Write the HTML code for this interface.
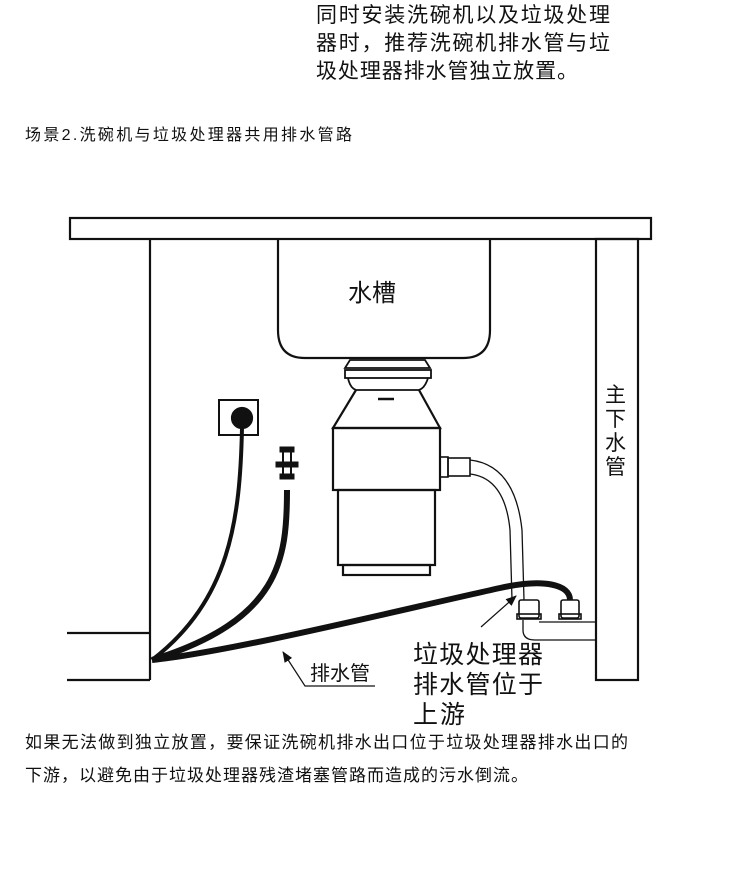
<!DOCTYPE html>
<html><head><meta charset="utf-8"><style>
html,body{margin:0;padding:0;background:#fff;}
svg{display:block;}
text{font-family:"Liberation Sans","Noto Sans CJK SC",sans-serif;fill:#111;}
</style></head><body>
<svg width="750" height="880" viewBox="0 0 750 880" xmlns="http://www.w3.org/2000/svg">
<defs><marker id="ar" markerWidth="12" markerHeight="12" refX="10" refY="5" orient="auto" markerUnits="userSpaceOnUse"><path d="M0,0.5 L11,5 L0,9.5 Z" fill="#111"/></marker></defs>
<text x="316" y="22" font-size="21" textLength="294">同时安装洗碗机以及垃圾处理</text>
<text x="316" y="50" font-size="21" textLength="294">器时，推荐洗碗机排水管与垃</text>
<text x="316" y="78" font-size="21" textLength="262">圾处理器排水管独立放置。</text>
<text x="25" y="140" font-size="16" textLength="327">场景2.洗碗机与垃圾处理器共用排水管路</text>

<g fill="none" stroke="#111" stroke-width="2.2">
<rect x="70" y="218" width="581" height="21" fill="#fff"/>
<line x1="150" y1="239" x2="150" y2="680"/>
<line x1="67" y1="633" x2="150" y2="633"/>
<line x1="67" y1="680" x2="150" y2="680"/>
<rect x="596" y="239" width="42" height="441"/>
<path d="M278,239 V330 Q278,358 305,358 H463 Q490,358 490,330 V239"/>
<path d="M350,360 H425 L430,368 H345 Z" stroke-width="1.8"/>
<rect x="345" y="370" width="86" height="8" stroke-width="1.8"/>
<path d="M348,378 Q350,388 356,390 H419 Q425,388 428,378" stroke-width="1.8"/>
<path d="M356,390 L333,428 H440 L419,390"/>
<line x1="378" y1="399" x2="394" y2="399" stroke-width="2.5"/>
<rect x="333" y="428" width="107" height="62"/>
<rect x="338" y="490" width="97" height="75"/>
<rect x="343" y="565" width="87" height="10"/>
<rect x="440" y="457" width="8" height="20" stroke-width="1.6"/>
<rect x="448" y="458" width="22" height="18" stroke-width="1.6"/>
<path d="M470,460 Q515,465 522,530 L524,600" stroke-width="1.3"/>
<path d="M470,474 Q505,478 510,530 L512,600" stroke-width="1.3"/>
<rect x="519" y="600" width="20" height="18" rx="2" stroke-width="1.6"/>
<rect x="517" y="614" width="24" height="5" stroke-width="1.6"/>
<rect x="561" y="600" width="18" height="18" rx="2" stroke-width="1.6"/>
<rect x="559" y="614" width="22" height="5" stroke-width="1.6"/>
<path d="M539,622 H596" stroke-width="1.3"/>
<path d="M523,620 V630 Q523,640 535,640 H596" stroke-width="1.3"/>
<rect x="219" y="400" width="39" height="35" stroke-width="2"/>
<circle cx="242" cy="418" r="10" fill="#111"/>
<path d="M242,428 C240,520 230,600 152,660" stroke-width="4"/>
<rect x="280" y="447" width="14" height="5" fill="#111" stroke-width="1"/>
<rect x="276" y="462" width="22" height="5" fill="#111" stroke-width="1"/>
<rect x="280" y="474" width="14" height="5" fill="#111" stroke-width="1"/>
<line x1="283" y1="452" x2="283" y2="474" stroke-width="2"/>
<line x1="291" y1="452" x2="291" y2="474" stroke-width="2"/>
<path d="M287,490 C287,560 280,620 152,660" stroke-width="6"/>
<path d="M152,660 C230,652 400,610 500,588 C545,578 570,585 570,600" stroke-width="6"/>
<path d="M375,686 H305 L283,652" stroke-width="1.2" marker-end="url(#ar)"/>
<path d="M481,627 L516,596" stroke-width="1.2" marker-end="url(#ar)"/>
</g>
<text x="348" y="301" font-size="24">水槽</text>
<text x="605" y="402" font-size="21">主</text>
<text x="605" y="426" font-size="21">下</text>
<text x="605" y="450" font-size="21">水</text>
<text x="605" y="474" font-size="21">管</text>
<text x="310" y="680" font-size="20">排水管</text>
<text x="413" y="663" font-size="25" textLength="130">垃圾处理器</text>
<text x="413" y="693" font-size="25" textLength="130">排水管位于</text>
<text x="413" y="723" font-size="25" textLength="52">上游</text>
<text x="25" y="748" font-size="17" textLength="603">如果无法做到独立放置，要保证洗碗机排水出口位于垃圾处理器排水出口的</text>
<text x="25" y="781" font-size="17" textLength="503">下游，以避免由于垃圾处理器残渣堵塞管路而造成的污水倒流。</text>
</svg>
</body></html>
